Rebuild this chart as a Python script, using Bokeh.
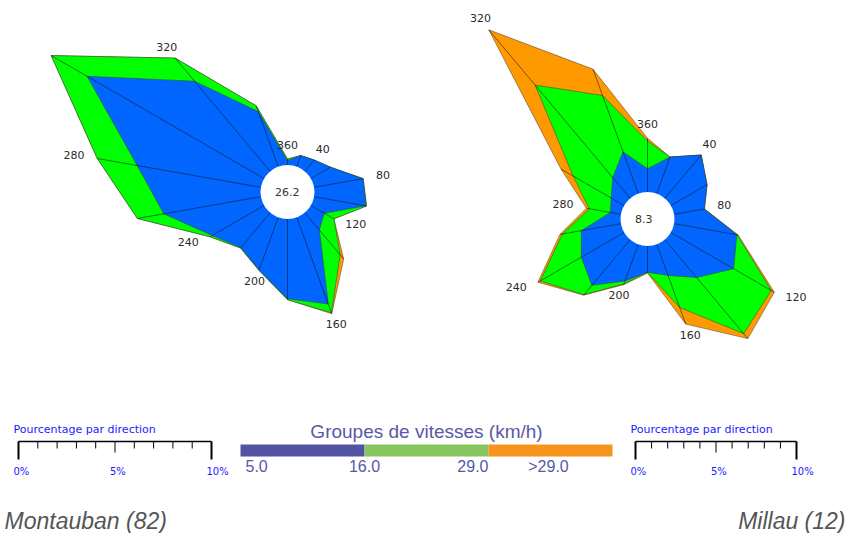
import numpy as np
from bokeh.plotting import figure
from bokeh.models import Range1d
from bokeh.embed import file_html
from bokeh.resources import INLINE
from bokeh.core.properties import value

# ---------------- data ----------------
directions = [20, 40, 60, 80, 100, 120, 140, 160, 180, 200, 220, 240, 260, 280, 300, 320, 340, 360]
label_dirs = [40, 80, 120, 160, 200, 240, 280, 320, 360]

# Montauban (82): % of time per direction and speed group
mont_5_16 = [0.61, 0.76, 1.17, 2.58, 2.72, 0.80, 1.17, 4.78, 4.13, 2.90, 2.36, 3.11, 5.11, 6.51, 10.59, 6.10, 3.03, 0.23]
mont_16_29 = [0.00, 0.00, 0.00, 0.00, 0.04, 0.58, 1.68, 0.48, 0.05, 0.02, 0.03, 0.13, 1.39, 2.10, 2.15, 1.56, 0.33, 0.08]
mont_gt29 = [0.00, 0.00, 0.00, 0.00, 0.00, 0.00, 0.28, 0.05, 0.00, 0.00, 0.00, 0.00, 0.00, 0.00, 0.00, 0.00, 0.00, 0.00]
mont_calm = "26.2"

# Millau (12)
millau_5_16 = [2.42, 3.51, 2.59, 1.91, 3.96, 4.50, 3.07, 2.05, 1.63, 2.42, 3.70, 3.07, 2.50, 0.66, 0.93, 1.68, 2.76, 1.44]
millau_16_29 = [0.00, 0.00, 0.00, 0.00, 0.02, 2.70, 4.55, 2.12, 0.02, 0.19, 0.76, 2.94, 1.19, 1.33, 2.73, 7.50, 3.73, 1.73]
millau_gt29 = [0.00, 0.00, 0.00, 0.00, 0.06, 0.22, 0.40, 1.10, 0.03, 0.06, 0.04, 0.17, 0.16, 0.19, 0.87, 4.48, 1.74, 0.17]
millau_calm = "8.3"

station_names = ["Montauban (82)", "Millau (12)"]
legend_title = "Groupes de vitesses (km/h)"
legend_labels = ["5.0", "16.0", "29.0", ">29.0"]
scale_title = "Pourcentage par direction"
scale_ticks = list(range(0, 11))
scale_label_vals = [0, 5, 10]
scale_labels = ["0%", "5%", "10%"]

# ---------------- style ----------------
ROSE_COLORS = ["#0066ff", "#00ff00", "#ff9900"]
LEG_COLORS = ["#5353a3", "#88c65f", "#f7941d"]
LEG_TEXT = "#5858a6"
R0 = 27
SANS = value("Liberation Sans")
DV = value("DejaVu Sans")

W, H = 849, 533
p = figure(width=W, height=H, output_backend="svg", toolbar_location=None,
           x_range=Range1d(0, W), y_range=Range1d(H, 0),
           min_border=0, outline_line_color=None, background_fill_color="white")
p.axis.visible = False
p.grid.visible = False


def rose(cx, cy, ppp, groups, calm):
    th = np.radians(directions)
    s, c = np.sin(th), np.cos(th)
    cum = np.cumsum(np.array(groups, dtype=float), axis=0)
    radii = R0 + cum * ppp
    for k in (2, 1, 0):
        p.patch(list(cx + radii[k] * s), list(cy - radii[k] * c),
                fill_color=ROSE_COLORS[k], line_color="#333333", line_width=0.6, line_alpha=0.8)
    p.segment(x0=list(cx + R0 * s), y0=list(cy - R0 * c),
              x1=list(cx + radii[2] * s), y1=list(cy - radii[2] * c),
              line_color="#111111", line_width=0.6, line_alpha=0.9)
    p.circle(x=[cx], y=[cy], radius=R0, fill_color="white", line_color=None)
    p.text(x=[cx - 12.5], y=[cy], text=[calm], text_font=DV, text_font_size="11px",
           text_color="#333333", text_align="left", text_baseline="middle")
    groups_al = {"left": ([], [], []), "right": ([], [], []), "center": ([], [], [])}
    for d in label_dirs:
        i = directions.index(d)
        r = radii[2][i] + 13
        sd, cd = np.sin(np.radians(d)), np.cos(np.radians(d))
        al = "left" if sd > 0.75 else ("right" if sd < -0.75 else "center")
        g = groups_al[al]
        g[0].append(cx + r * sd)
        g[1].append(cy - r * cd - 1.5)
        g[2].append(str(d))
    for al, (xs, ys, ts) in groups_al.items():
        if xs:
            p.text(x=xs, y=ys, text=ts, text_font=DV, text_font_size="11px",
                   text_color="#2a2a2a", text_align=al, text_baseline="middle")


def scale_bar(x0, y0, ppp):
    xs = [x0 + v * ppp for v in scale_ticks]
    p.segment(x0=[xs[0]], y0=[y0], x1=[xs[-1]], y1=[y0], line_color="black", line_width=1.5)
    lens = [18 if v in (0, 10) else (11 if v == 5 else 7) for v in scale_ticks]
    wid = [2 if v in (0, 10) else 1 for v in scale_ticks]
    p.segment(x0=xs, y0=[y0] * len(xs), x1=xs, y1=[y0 + l for l in lens],
              line_color="black", line_width=wid)
    p.text(x=[x0 - 5], y=[y0 - 12.5], text=[scale_title], text_font=DV, text_font_size="11px",
           text_color="#1a1aff", text_align="left", text_baseline="middle")
    p.text(x=[x0 + v * ppp - 5 for v in scale_label_vals], y=[y0 + 30] * 3, text=scale_labels,
           text_font=DV, text_font_size="10px", text_color="#1a1aff",
           text_align="left", text_baseline="middle")


rose(287, 191.5, 19.3, [mont_5_16, mont_16_29, mont_gt29], mont_calm)
rose(647, 218.5, 16.1, [millau_5_16, millau_16_29, millau_gt29], millau_calm)
scale_bar(18, 441, 19.3)
scale_bar(635, 441, 16.1)

# speed legend
bx0, seg_w, by0, bh = 240, 124, 444, 12
p.quad(left=[bx0 + i * seg_w for i in range(3)], right=[bx0 + (i + 1) * seg_w for i in range(3)],
       top=[by0] * 3, bottom=[by0 + bh] * 3, fill_color=LEG_COLORS, line_color=None)
p.text(x=[bx0 + 1.5 * seg_w], y=[431], text=[legend_title], text_font=SANS,
       text_font_size="19px", text_color=LEG_TEXT, text_align="center", text_baseline="middle")
leg_x = [bx0 + 5, bx0 + seg_w, bx0 + 2 * seg_w, bx0 + 2.5 * seg_w - 2]
leg_al = ["left", "center", "right", "center"]
for xx, t, al in zip(leg_x, legend_labels, leg_al):
    p.text(x=[xx], y=[465.5], text=[t], text_font=SANS, text_font_size="16px",
           text_color=LEG_TEXT, text_align=al, text_baseline="middle")

# station names
p.text(x=[4], y=[520.5], text=[station_names[0]], text_font=SANS, text_font_size="23px",
       text_font_style="italic", text_color="#555555", text_align="left", text_baseline="middle")
p.text(x=[845], y=[520.5], text=[station_names[1]], text_font=SANS, text_font_size="23px",
       text_font_style="italic", text_color="#555555", text_align="right", text_baseline="middle")

open("out.html", "w").write(file_html(p, INLINE))
